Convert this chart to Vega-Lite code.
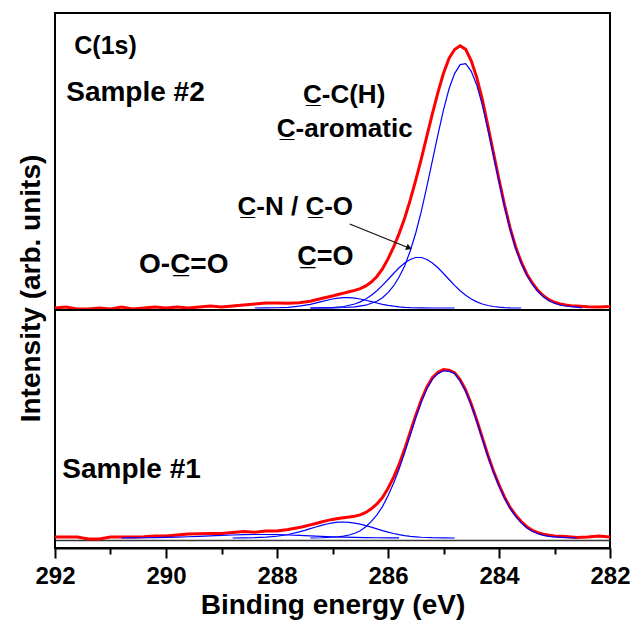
{
  "$schema": "https://vega.github.io/schema/vega-lite/v6.json",
  "padding": {"left": 16, "top": 12, "right": 3, "bottom": 5},
  "background": "white",
  "bounds": "flush",
  "spacing": 0,
  "config": {
    "font": "Liberation Sans",
    "view": {"stroke": "black", "strokeWidth": 2}
  },
  "datasets": {
    "spectra": [
      {"sample":"Sample #2","curve":"Measured","eV":292,"counts":0},
      {"sample":"Sample #2","curve":"Measured","eV":291.8,"counts":1},
      {"sample":"Sample #2","curve":"Measured","eV":291.6,"counts":-1},
      {"sample":"Sample #2","curve":"Measured","eV":291.4,"counts":-1},
      {"sample":"Sample #2","curve":"Measured","eV":291.2,"counts":0},
      {"sample":"Sample #2","curve":"Measured","eV":291,"counts":-1},
      {"sample":"Sample #2","curve":"Measured","eV":290.8,"counts":1},
      {"sample":"Sample #2","curve":"Measured","eV":290.6,"counts":-1},
      {"sample":"Sample #2","curve":"Measured","eV":290.4,"counts":0},
      {"sample":"Sample #2","curve":"Measured","eV":290.2,"counts":1},
      {"sample":"Sample #2","curve":"Measured","eV":290,"counts":0},
      {"sample":"Sample #2","curve":"Measured","eV":289.8,"counts":1},
      {"sample":"Sample #2","curve":"Measured","eV":289.6,"counts":0},
      {"sample":"Sample #2","curve":"Measured","eV":289.4,"counts":1},
      {"sample":"Sample #2","curve":"Measured","eV":289.2,"counts":2},
      {"sample":"Sample #2","curve":"Measured","eV":289,"counts":1},
      {"sample":"Sample #2","curve":"Measured","eV":288.8,"counts":2},
      {"sample":"Sample #2","curve":"Measured","eV":288.6,"counts":3},
      {"sample":"Sample #2","curve":"Measured","eV":288.4,"counts":4},
      {"sample":"Sample #2","curve":"Measured","eV":288.2,"counts":5},
      {"sample":"Sample #2","curve":"Measured","eV":288,"counts":5},
      {"sample":"Sample #2","curve":"Measured","eV":287.8,"counts":4.7},
      {"sample":"Sample #2","curve":"Measured","eV":287.6,"counts":5.3},
      {"sample":"Sample #2","curve":"Measured","eV":287.4,"counts":6.7},
      {"sample":"Sample #2","curve":"Measured","eV":287.2,"counts":9.5},
      {"sample":"Sample #2","curve":"Measured","eV":287,"counts":12},
      {"sample":"Sample #2","curve":"Measured","eV":286.9,"counts":13.5},
      {"sample":"Sample #2","curve":"Measured","eV":286.8,"counts":14.9},
      {"sample":"Sample #2","curve":"Measured","eV":286.7,"counts":16.2},
      {"sample":"Sample #2","curve":"Measured","eV":286.6,"counts":17.6},
      {"sample":"Sample #2","curve":"Measured","eV":286.5,"counts":19.4},
      {"sample":"Sample #2","curve":"Measured","eV":286.4,"counts":22.1},
      {"sample":"Sample #2","curve":"Measured","eV":286.3,"counts":25.9},
      {"sample":"Sample #2","curve":"Measured","eV":286.2,"counts":31.5},
      {"sample":"Sample #2","curve":"Measured","eV":286.1,"counts":39.1},
      {"sample":"Sample #2","curve":"Measured","eV":286,"counts":49.1},
      {"sample":"Sample #2","curve":"Measured","eV":285.9,"counts":60.8},
      {"sample":"Sample #2","curve":"Measured","eV":285.8,"counts":74.4},
      {"sample":"Sample #2","curve":"Measured","eV":285.7,"counts":89.7},
      {"sample":"Sample #2","curve":"Measured","eV":285.6,"counts":107.9},
      {"sample":"Sample #2","curve":"Measured","eV":285.5,"counts":127.8},
      {"sample":"Sample #2","curve":"Measured","eV":285.4,"counts":149.1},
      {"sample":"Sample #2","curve":"Measured","eV":285.3,"counts":171.9},
      {"sample":"Sample #2","curve":"Measured","eV":285.2,"counts":194.4},
      {"sample":"Sample #2","curve":"Measured","eV":285.1,"counts":215.6},
      {"sample":"Sample #2","curve":"Measured","eV":285,"counts":234.7},
      {"sample":"Sample #2","curve":"Measured","eV":284.9,"counts":249.7},
      {"sample":"Sample #2","curve":"Measured","eV":284.8,"counts":258.5},
      {"sample":"Sample #2","curve":"Measured","eV":284.7,"counts":262.2},
      {"sample":"Sample #2","curve":"Measured","eV":284.6,"counts":258.6},
      {"sample":"Sample #2","curve":"Measured","eV":284.5,"counts":247.1},
      {"sample":"Sample #2","curve":"Measured","eV":284.4,"counts":230.4},
      {"sample":"Sample #2","curve":"Measured","eV":284.3,"counts":208.3},
      {"sample":"Sample #2","curve":"Measured","eV":284.2,"counts":182.1},
      {"sample":"Sample #2","curve":"Measured","eV":284.1,"counts":155.1},
      {"sample":"Sample #2","curve":"Measured","eV":284,"counts":128.5},
      {"sample":"Sample #2","curve":"Measured","eV":283.9,"counts":102.9},
      {"sample":"Sample #2","curve":"Measured","eV":283.8,"counts":80.2},
      {"sample":"Sample #2","curve":"Measured","eV":283.7,"counts":61},
      {"sample":"Sample #2","curve":"Measured","eV":283.6,"counts":46},
      {"sample":"Sample #2","curve":"Measured","eV":283.5,"counts":34},
      {"sample":"Sample #2","curve":"Measured","eV":283.4,"counts":25},
      {"sample":"Sample #2","curve":"Measured","eV":283.3,"counts":17.6},
      {"sample":"Sample #2","curve":"Measured","eV":283.2,"counts":12.2},
      {"sample":"Sample #2","curve":"Measured","eV":283.1,"counts":8.3},
      {"sample":"Sample #2","curve":"Measured","eV":283,"counts":5.7},
      {"sample":"Sample #2","curve":"Measured","eV":282.9,"counts":4},
      {"sample":"Sample #2","curve":"Measured","eV":282.8,"counts":3},
      {"sample":"Sample #2","curve":"Measured","eV":282.7,"counts":2.3},
      {"sample":"Sample #2","curve":"Measured","eV":282.6,"counts":2},
      {"sample":"Sample #2","curve":"Measured","eV":282.4,"counts":1.3},
      {"sample":"Sample #2","curve":"Measured","eV":282.2,"counts":1},
      {"sample":"Sample #2","curve":"Measured","eV":282,"counts":1.5},

      {"sample":"Sample #2","curve":"C-C(H)","eV":287.4,"counts":0},
      {"sample":"Sample #2","curve":"C-C(H)","eV":287,"counts":0.2},
      {"sample":"Sample #2","curve":"C-C(H)","eV":286.8,"counts":0.5},
      {"sample":"Sample #2","curve":"C-C(H)","eV":286.6,"counts":1.2},
      {"sample":"Sample #2","curve":"C-C(H)","eV":286.4,"counts":2.8},
      {"sample":"Sample #2","curve":"C-C(H)","eV":286.2,"counts":6.7},
      {"sample":"Sample #2","curve":"C-C(H)","eV":286.1,"counts":10.3},
      {"sample":"Sample #2","curve":"C-C(H)","eV":286,"counts":15.4},
      {"sample":"Sample #2","curve":"C-C(H)","eV":285.9,"counts":22},
      {"sample":"Sample #2","curve":"C-C(H)","eV":285.8,"counts":31},
      {"sample":"Sample #2","curve":"C-C(H)","eV":285.7,"counts":42},
      {"sample":"Sample #2","curve":"C-C(H)","eV":285.6,"counts":57},
      {"sample":"Sample #2","curve":"C-C(H)","eV":285.5,"counts":75},
      {"sample":"Sample #2","curve":"C-C(H)","eV":285.4,"counts":96.6},
      {"sample":"Sample #2","curve":"C-C(H)","eV":285.3,"counts":121.4},
      {"sample":"Sample #2","curve":"C-C(H)","eV":285.2,"counts":147.4},
      {"sample":"Sample #2","curve":"C-C(H)","eV":285.1,"counts":173.4},
      {"sample":"Sample #2","curve":"C-C(H)","eV":285,"counts":198.2},
      {"sample":"Sample #2","curve":"C-C(H)","eV":284.9,"counts":219.2},
      {"sample":"Sample #2","curve":"C-C(H)","eV":284.8,"counts":234.4},
      {"sample":"Sample #2","curve":"C-C(H)","eV":284.7,"counts":243.4},
      {"sample":"Sample #2","curve":"C-C(H)","eV":284.6,"counts":244.4},
      {"sample":"Sample #2","curve":"C-C(H)","eV":284.5,"counts":236.6},
      {"sample":"Sample #2","curve":"C-C(H)","eV":284.4,"counts":222.8},
      {"sample":"Sample #2","curve":"C-C(H)","eV":284.3,"counts":202.8},
      {"sample":"Sample #2","curve":"C-C(H)","eV":284.2,"counts":178.6},
      {"sample":"Sample #2","curve":"C-C(H)","eV":284.1,"counts":152.6},
      {"sample":"Sample #2","curve":"C-C(H)","eV":284,"counts":126.6},
      {"sample":"Sample #2","curve":"C-C(H)","eV":283.9,"counts":101.4},
      {"sample":"Sample #2","curve":"C-C(H)","eV":283.8,"counts":79},
      {"sample":"Sample #2","curve":"C-C(H)","eV":283.7,"counts":59.9},
      {"sample":"Sample #2","curve":"C-C(H)","eV":283.6,"counts":44.8},
      {"sample":"Sample #2","curve":"C-C(H)","eV":283.5,"counts":33},
      {"sample":"Sample #2","curve":"C-C(H)","eV":283.4,"counts":23.8},
      {"sample":"Sample #2","curve":"C-C(H)","eV":283.3,"counts":16.6},
      {"sample":"Sample #2","curve":"C-C(H)","eV":283.2,"counts":11.2},
      {"sample":"Sample #2","curve":"C-C(H)","eV":283.1,"counts":7.3},
      {"sample":"Sample #2","curve":"C-C(H)","eV":283,"counts":4.7},
      {"sample":"Sample #2","curve":"C-C(H)","eV":282.9,"counts":3},
      {"sample":"Sample #2","curve":"C-C(H)","eV":282.8,"counts":2},
      {"sample":"Sample #2","curve":"C-C(H)","eV":282.7,"counts":1.3},
      {"sample":"Sample #2","curve":"C-C(H)","eV":282.6,"counts":0.9},
      {"sample":"Sample #2","curve":"C-C(H)","eV":282.5,"counts":0},

      {"sample":"Sample #2","curve":"C-N/C-O","eV":287.4,"counts":0},
      {"sample":"Sample #2","curve":"C-N/C-O","eV":287.2,"counts":0.15},
      {"sample":"Sample #2","curve":"C-N/C-O","eV":287,"counts":0.45},
      {"sample":"Sample #2","curve":"C-N/C-O","eV":286.8,"counts":1.5},
      {"sample":"Sample #2","curve":"C-N/C-O","eV":286.6,"counts":4},
      {"sample":"Sample #2","curve":"C-N/C-O","eV":286.5,"counts":6.1},
      {"sample":"Sample #2","curve":"C-N/C-O","eV":286.4,"counts":9},
      {"sample":"Sample #2","curve":"C-N/C-O","eV":286.3,"counts":12.7},
      {"sample":"Sample #2","curve":"C-N/C-O","eV":286.2,"counts":17.3},
      {"sample":"Sample #2","curve":"C-N/C-O","eV":286.1,"counts":22.6},
      {"sample":"Sample #2","curve":"C-N/C-O","eV":286,"counts":28.5},
      {"sample":"Sample #2","curve":"C-N/C-O","eV":285.9,"counts":34.5},
      {"sample":"Sample #2","curve":"C-N/C-O","eV":285.8,"counts":40.2},
      {"sample":"Sample #2","curve":"C-N/C-O","eV":285.7,"counts":45},
      {"sample":"Sample #2","curve":"C-N/C-O","eV":285.6,"counts":48.5},
      {"sample":"Sample #2","curve":"C-N/C-O","eV":285.5,"counts":50.5},
      {"sample":"Sample #2","curve":"C-N/C-O","eV":285.4,"counts":50.5},
      {"sample":"Sample #2","curve":"C-N/C-O","eV":285.3,"counts":48.5},
      {"sample":"Sample #2","curve":"C-N/C-O","eV":285.2,"counts":45},
      {"sample":"Sample #2","curve":"C-N/C-O","eV":285.1,"counts":40.2},
      {"sample":"Sample #2","curve":"C-N/C-O","eV":285,"counts":34.5},
      {"sample":"Sample #2","curve":"C-N/C-O","eV":284.9,"counts":28.5},
      {"sample":"Sample #2","curve":"C-N/C-O","eV":284.8,"counts":22.6},
      {"sample":"Sample #2","curve":"C-N/C-O","eV":284.7,"counts":17.3},
      {"sample":"Sample #2","curve":"C-N/C-O","eV":284.6,"counts":12.7},
      {"sample":"Sample #2","curve":"C-N/C-O","eV":284.5,"counts":9},
      {"sample":"Sample #2","curve":"C-N/C-O","eV":284.4,"counts":6.1},
      {"sample":"Sample #2","curve":"C-N/C-O","eV":284.3,"counts":4},
      {"sample":"Sample #2","curve":"C-N/C-O","eV":284.2,"counts":2.5},
      {"sample":"Sample #2","curve":"C-N/C-O","eV":284.1,"counts":1.5},
      {"sample":"Sample #2","curve":"C-N/C-O","eV":284,"counts":0.85},
      {"sample":"Sample #2","curve":"C-N/C-O","eV":283.9,"counts":0.45},
      {"sample":"Sample #2","curve":"C-N/C-O","eV":283.8,"counts":0.2},
      {"sample":"Sample #2","curve":"C-N/C-O","eV":283.6,"counts":0},

      {"sample":"Sample #2","curve":"C=O","eV":288.4,"counts":0},
      {"sample":"Sample #2","curve":"C=O","eV":288.2,"counts":0.1},
      {"sample":"Sample #2","curve":"C=O","eV":288,"counts":0.25},
      {"sample":"Sample #2","curve":"C=O","eV":287.8,"counts":0.7},
      {"sample":"Sample #2","curve":"C=O","eV":287.6,"counts":1.8},
      {"sample":"Sample #2","curve":"C=O","eV":287.4,"counts":3.7},
      {"sample":"Sample #2","curve":"C=O","eV":287.2,"counts":6.4},
      {"sample":"Sample #2","curve":"C=O","eV":287,"counts":9},
      {"sample":"Sample #2","curve":"C=O","eV":286.9,"counts":9.85},
      {"sample":"Sample #2","curve":"C=O","eV":286.8,"counts":10.4},
      {"sample":"Sample #2","curve":"C=O","eV":286.7,"counts":10.4},
      {"sample":"Sample #2","curve":"C=O","eV":286.6,"counts":9.85},
      {"sample":"Sample #2","curve":"C=O","eV":286.5,"counts":9},
      {"sample":"Sample #2","curve":"C=O","eV":286.4,"counts":7.75},
      {"sample":"Sample #2","curve":"C=O","eV":286.3,"counts":6.4},
      {"sample":"Sample #2","curve":"C=O","eV":286.2,"counts":5},
      {"sample":"Sample #2","curve":"C=O","eV":286.1,"counts":3.7},
      {"sample":"Sample #2","curve":"C=O","eV":286,"counts":2.65},
      {"sample":"Sample #2","curve":"C=O","eV":285.9,"counts":1.8},
      {"sample":"Sample #2","curve":"C=O","eV":285.8,"counts":1.15},
      {"sample":"Sample #2","curve":"C=O","eV":285.7,"counts":0.7},
      {"sample":"Sample #2","curve":"C=O","eV":285.6,"counts":0.4},
      {"sample":"Sample #2","curve":"C=O","eV":285.4,"counts":0.15},
      {"sample":"Sample #2","curve":"C=O","eV":285.2,"counts":0},
      {"sample":"Sample #2","curve":"C=O","eV":284.8,"counts":0},

      {"sample":"Sample #1","curve":"Measured","eV":292,"counts":1},
      {"sample":"Sample #1","curve":"Measured","eV":291.8,"counts":1},
      {"sample":"Sample #1","curve":"Measured","eV":291.6,"counts":1},
      {"sample":"Sample #1","curve":"Measured","eV":291.4,"counts":-1},
      {"sample":"Sample #1","curve":"Measured","eV":291.2,"counts":-1},
      {"sample":"Sample #1","curve":"Measured","eV":291,"counts":1},
      {"sample":"Sample #1","curve":"Measured","eV":290.8,"counts":1},
      {"sample":"Sample #1","curve":"Measured","eV":290.6,"counts":1},
      {"sample":"Sample #1","curve":"Measured","eV":290.4,"counts":1.2},
      {"sample":"Sample #1","curve":"Measured","eV":290.2,"counts":2},
      {"sample":"Sample #1","curve":"Measured","eV":290,"counts":2},
      {"sample":"Sample #1","curve":"Measured","eV":289.8,"counts":3},
      {"sample":"Sample #1","curve":"Measured","eV":289.6,"counts":4},
      {"sample":"Sample #1","curve":"Measured","eV":289.4,"counts":4.2},
      {"sample":"Sample #1","curve":"Measured","eV":289.2,"counts":4.6},
      {"sample":"Sample #1","curve":"Measured","eV":289,"counts":4.5},
      {"sample":"Sample #1","curve":"Measured","eV":288.8,"counts":5.5},
      {"sample":"Sample #1","curve":"Measured","eV":288.6,"counts":6.5},
      {"sample":"Sample #1","curve":"Measured","eV":288.4,"counts":5.8},
      {"sample":"Sample #1","curve":"Measured","eV":288.2,"counts":7},
      {"sample":"Sample #1","curve":"Measured","eV":288,"counts":7},
      {"sample":"Sample #1","curve":"Measured","eV":287.8,"counts":8.5},
      {"sample":"Sample #1","curve":"Measured","eV":287.6,"counts":10.4},
      {"sample":"Sample #1","curve":"Measured","eV":287.5,"counts":11.7},
      {"sample":"Sample #1","curve":"Measured","eV":287.4,"counts":13.1},
      {"sample":"Sample #1","curve":"Measured","eV":287.3,"counts":14.5},
      {"sample":"Sample #1","curve":"Measured","eV":287.2,"counts":16},
      {"sample":"Sample #1","curve":"Measured","eV":287.1,"counts":17.4},
      {"sample":"Sample #1","curve":"Measured","eV":287,"counts":18.6},
      {"sample":"Sample #1","curve":"Measured","eV":286.9,"counts":19.5},
      {"sample":"Sample #1","curve":"Measured","eV":286.8,"counts":20.3},
      {"sample":"Sample #1","curve":"Measured","eV":286.7,"counts":20.9},
      {"sample":"Sample #1","curve":"Measured","eV":286.6,"counts":21.7},
      {"sample":"Sample #1","curve":"Measured","eV":286.5,"counts":23.1},
      {"sample":"Sample #1","curve":"Measured","eV":286.4,"counts":25.6},
      {"sample":"Sample #1","curve":"Measured","eV":286.3,"counts":29.2},
      {"sample":"Sample #1","curve":"Measured","eV":286.2,"counts":34},
      {"sample":"Sample #1","curve":"Measured","eV":286.1,"counts":40.4},
      {"sample":"Sample #1","curve":"Measured","eV":286,"counts":49.6},
      {"sample":"Sample #1","curve":"Measured","eV":285.9,"counts":60.7},
      {"sample":"Sample #1","curve":"Measured","eV":285.8,"counts":73.6},
      {"sample":"Sample #1","curve":"Measured","eV":285.7,"counts":88.9},
      {"sample":"Sample #1","curve":"Measured","eV":285.6,"counts":105.7},
      {"sample":"Sample #1","curve":"Measured","eV":285.5,"counts":122.6},
      {"sample":"Sample #1","curve":"Measured","eV":285.4,"counts":138},
      {"sample":"Sample #1","curve":"Measured","eV":285.3,"counts":150.8},
      {"sample":"Sample #1","curve":"Measured","eV":285.2,"counts":160.2},
      {"sample":"Sample #1","curve":"Measured","eV":285.1,"counts":165.7},
      {"sample":"Sample #1","curve":"Measured","eV":285,"counts":168.4},
      {"sample":"Sample #1","curve":"Measured","eV":284.9,"counts":167.8},
      {"sample":"Sample #1","curve":"Measured","eV":284.8,"counts":165.4},
      {"sample":"Sample #1","curve":"Measured","eV":284.7,"counts":158.2},
      {"sample":"Sample #1","curve":"Measured","eV":284.6,"counts":147.8},
      {"sample":"Sample #1","curve":"Measured","eV":284.5,"counts":134},
      {"sample":"Sample #1","curve":"Measured","eV":284.4,"counts":117.8},
      {"sample":"Sample #1","curve":"Measured","eV":284.3,"counts":100.2},
      {"sample":"Sample #1","curve":"Measured","eV":284.2,"counts":82.8},
      {"sample":"Sample #1","curve":"Measured","eV":284.1,"counts":67},
      {"sample":"Sample #1","curve":"Measured","eV":284,"counts":53.2},
      {"sample":"Sample #1","curve":"Measured","eV":283.9,"counts":40.8},
      {"sample":"Sample #1","curve":"Measured","eV":283.8,"counts":30.6},
      {"sample":"Sample #1","curve":"Measured","eV":283.7,"counts":22.8},
      {"sample":"Sample #1","curve":"Measured","eV":283.6,"counts":16.4},
      {"sample":"Sample #1","curve":"Measured","eV":283.5,"counts":11.3},
      {"sample":"Sample #1","curve":"Measured","eV":283.4,"counts":7.7},
      {"sample":"Sample #1","curve":"Measured","eV":283.3,"counts":5.3},
      {"sample":"Sample #1","curve":"Measured","eV":283.2,"counts":3.7},
      {"sample":"Sample #1","curve":"Measured","eV":283.1,"counts":2.7},
      {"sample":"Sample #1","curve":"Measured","eV":283,"counts":2.1},
      {"sample":"Sample #1","curve":"Measured","eV":282.8,"counts":1.4},
      {"sample":"Sample #1","curve":"Measured","eV":282.6,"counts":0.5},
      {"sample":"Sample #1","curve":"Measured","eV":282.4,"counts":1},
      {"sample":"Sample #1","curve":"Measured","eV":282.2,"counts":2},
      {"sample":"Sample #1","curve":"Measured","eV":282,"counts":1},

      {"sample":"Sample #1","curve":"C-C(H)","eV":287.4,"counts":0},
      {"sample":"Sample #1","curve":"C-C(H)","eV":287.2,"counts":0.25},
      {"sample":"Sample #1","curve":"C-C(H)","eV":287,"counts":0.8},
      {"sample":"Sample #1","curve":"C-C(H)","eV":286.9,"counts":1.2},
      {"sample":"Sample #1","curve":"C-C(H)","eV":286.8,"counts":1.9},
      {"sample":"Sample #1","curve":"C-C(H)","eV":286.7,"counts":3},
      {"sample":"Sample #1","curve":"C-C(H)","eV":286.6,"counts":4.7},
      {"sample":"Sample #1","curve":"C-C(H)","eV":286.5,"counts":7.3},
      {"sample":"Sample #1","curve":"C-C(H)","eV":286.4,"counts":11.3},
      {"sample":"Sample #1","curve":"C-C(H)","eV":286.3,"counts":16.6},
      {"sample":"Sample #1","curve":"C-C(H)","eV":286.2,"counts":23.2},
      {"sample":"Sample #1","curve":"C-C(H)","eV":286.1,"counts":31.4},
      {"sample":"Sample #1","curve":"C-C(H)","eV":286,"counts":42.2},
      {"sample":"Sample #1","curve":"C-C(H)","eV":285.9,"counts":54.8},
      {"sample":"Sample #1","curve":"C-C(H)","eV":285.8,"counts":69},
      {"sample":"Sample #1","curve":"C-C(H)","eV":285.7,"counts":85.2},
      {"sample":"Sample #1","curve":"C-C(H)","eV":285.6,"counts":102.8},
      {"sample":"Sample #1","curve":"C-C(H)","eV":285.5,"counts":120.2},
      {"sample":"Sample #1","curve":"C-C(H)","eV":285.4,"counts":136},
      {"sample":"Sample #1","curve":"C-C(H)","eV":285.3,"counts":149.2},
      {"sample":"Sample #1","curve":"C-C(H)","eV":285.2,"counts":158.8},
      {"sample":"Sample #1","curve":"C-C(H)","eV":285.1,"counts":164.4},
      {"sample":"Sample #1","curve":"C-C(H)","eV":285,"counts":167.2},
      {"sample":"Sample #1","curve":"C-C(H)","eV":284.9,"counts":166.8},
      {"sample":"Sample #1","curve":"C-C(H)","eV":284.8,"counts":164.4},
      {"sample":"Sample #1","curve":"C-C(H)","eV":284.7,"counts":157.2},
      {"sample":"Sample #1","curve":"C-C(H)","eV":284.6,"counts":146.8},
      {"sample":"Sample #1","curve":"C-C(H)","eV":284.5,"counts":133},
      {"sample":"Sample #1","curve":"C-C(H)","eV":284.4,"counts":116.8},
      {"sample":"Sample #1","curve":"C-C(H)","eV":284.3,"counts":99.2},
      {"sample":"Sample #1","curve":"C-C(H)","eV":284.2,"counts":81.8},
      {"sample":"Sample #1","curve":"C-C(H)","eV":284.1,"counts":66},
      {"sample":"Sample #1","curve":"C-C(H)","eV":284,"counts":52.2},
      {"sample":"Sample #1","curve":"C-C(H)","eV":283.9,"counts":39.8},
      {"sample":"Sample #1","curve":"C-C(H)","eV":283.8,"counts":29.6},
      {"sample":"Sample #1","curve":"C-C(H)","eV":283.7,"counts":21.8},
      {"sample":"Sample #1","curve":"C-C(H)","eV":283.6,"counts":15.4},
      {"sample":"Sample #1","curve":"C-C(H)","eV":283.5,"counts":10.3},
      {"sample":"Sample #1","curve":"C-C(H)","eV":283.4,"counts":6.7},
      {"sample":"Sample #1","curve":"C-C(H)","eV":283.3,"counts":4.3},
      {"sample":"Sample #1","curve":"C-C(H)","eV":283.2,"counts":2.7},
      {"sample":"Sample #1","curve":"C-C(H)","eV":283.1,"counts":1.7},
      {"sample":"Sample #1","curve":"C-C(H)","eV":283,"counts":1.1},
      {"sample":"Sample #1","curve":"C-C(H)","eV":282.8,"counts":0.4},
      {"sample":"Sample #1","curve":"C-C(H)","eV":282.6,"counts":0},

      {"sample":"Sample #1","curve":"C-N/C-O","eV":288.8,"counts":0},
      {"sample":"Sample #1","curve":"C-N/C-O","eV":288.6,"counts":0.1},
      {"sample":"Sample #1","curve":"C-N/C-O","eV":288.4,"counts":0.3},
      {"sample":"Sample #1","curve":"C-N/C-O","eV":288.2,"counts":0.8},
      {"sample":"Sample #1","curve":"C-N/C-O","eV":288,"counts":1.75},
      {"sample":"Sample #1","curve":"C-N/C-O","eV":287.8,"counts":3.5},
      {"sample":"Sample #1","curve":"C-N/C-O","eV":287.6,"counts":6.1},
      {"sample":"Sample #1","curve":"C-N/C-O","eV":287.5,"counts":7.6},
      {"sample":"Sample #1","curve":"C-N/C-O","eV":287.4,"counts":9.35},
      {"sample":"Sample #1","curve":"C-N/C-O","eV":287.3,"counts":11},
      {"sample":"Sample #1","curve":"C-N/C-O","eV":287.2,"counts":12.6},
      {"sample":"Sample #1","curve":"C-N/C-O","eV":287.1,"counts":14},
      {"sample":"Sample #1","curve":"C-N/C-O","eV":287,"counts":15.1},
      {"sample":"Sample #1","curve":"C-N/C-O","eV":286.9,"counts":15.8},
      {"sample":"Sample #1","curve":"C-N/C-O","eV":286.8,"counts":16},
      {"sample":"Sample #1","curve":"C-N/C-O","eV":286.7,"counts":15.7},
      {"sample":"Sample #1","curve":"C-N/C-O","eV":286.6,"counts":14.9},
      {"sample":"Sample #1","curve":"C-N/C-O","eV":286.5,"counts":13.8},
      {"sample":"Sample #1","curve":"C-N/C-O","eV":286.4,"counts":12.4},
      {"sample":"Sample #1","curve":"C-N/C-O","eV":286.3,"counts":10.8},
      {"sample":"Sample #1","curve":"C-N/C-O","eV":286.2,"counts":9.1},
      {"sample":"Sample #1","curve":"C-N/C-O","eV":286.1,"counts":7.4},
      {"sample":"Sample #1","curve":"C-N/C-O","eV":286,"counts":5.85},
      {"sample":"Sample #1","curve":"C-N/C-O","eV":285.9,"counts":4.5},
      {"sample":"Sample #1","curve":"C-N/C-O","eV":285.8,"counts":3.3},
      {"sample":"Sample #1","curve":"C-N/C-O","eV":285.7,"counts":2.4},
      {"sample":"Sample #1","curve":"C-N/C-O","eV":285.6,"counts":1.65},
      {"sample":"Sample #1","curve":"C-N/C-O","eV":285.5,"counts":1.15},
      {"sample":"Sample #1","curve":"C-N/C-O","eV":285.4,"counts":0.75},
      {"sample":"Sample #1","curve":"C-N/C-O","eV":285.2,"counts":0.3},
      {"sample":"Sample #1","curve":"C-N/C-O","eV":285,"counts":0.1},
      {"sample":"Sample #1","curve":"C-N/C-O","eV":284.8,"counts":0},

      {"sample":"Sample #1","curve":"C=O","eV":290.8,"counts":0.05},
      {"sample":"Sample #1","curve":"C=O","eV":290.6,"counts":0.14},
      {"sample":"Sample #1","curve":"C=O","eV":290.4,"counts":0.23},
      {"sample":"Sample #1","curve":"C=O","eV":290.2,"counts":0.37},
      {"sample":"Sample #1","curve":"C=O","eV":290,"counts":0.6},
      {"sample":"Sample #1","curve":"C=O","eV":289.8,"counts":0.88},
      {"sample":"Sample #1","curve":"C=O","eV":289.6,"counts":1.24},
      {"sample":"Sample #1","curve":"C=O","eV":289.4,"counts":1.66},
      {"sample":"Sample #1","curve":"C=O","eV":289.2,"counts":2.1},
      {"sample":"Sample #1","curve":"C=O","eV":289,"counts":2.6},
      {"sample":"Sample #1","curve":"C=O","eV":288.8,"counts":3},
      {"sample":"Sample #1","curve":"C=O","eV":288.6,"counts":3.3},
      {"sample":"Sample #1","curve":"C=O","eV":288.4,"counts":3.48},
      {"sample":"Sample #1","curve":"C=O","eV":288.2,"counts":3.48},
      {"sample":"Sample #1","curve":"C=O","eV":288,"counts":3.3},
      {"sample":"Sample #1","curve":"C=O","eV":287.8,"counts":3},
      {"sample":"Sample #1","curve":"C=O","eV":287.6,"counts":2.6},
      {"sample":"Sample #1","curve":"C=O","eV":287.4,"counts":2.1},
      {"sample":"Sample #1","curve":"C=O","eV":287.2,"counts":1.66},
      {"sample":"Sample #1","curve":"C=O","eV":287,"counts":1.24},
      {"sample":"Sample #1","curve":"C=O","eV":286.8,"counts":0.88},
      {"sample":"Sample #1","curve":"C=O","eV":286.6,"counts":0.6},
      {"sample":"Sample #1","curve":"C=O","eV":286.4,"counts":0.37},
      {"sample":"Sample #1","curve":"C=O","eV":286.2,"counts":0.23},
      {"sample":"Sample #1","curve":"C=O","eV":286,"counts":0.14},
      {"sample":"Sample #1","curve":"C=O","eV":285.8,"counts":0.05}
    ],
    "labels": [
      {"sample":"Sample #2","label":"C(1s)","eV":291.09,"counts":262,"size":25},
      {"sample":"Sample #2","label":"Sample #2","eV":290.55,"counts":215,"size":28},
      {"sample":"Sample #2","label":"C\u0332-C(H)","eV":286.79,"counts":213,"size":26},
      {"sample":"Sample #2","label":"C\u0332-aromatic","eV":286.78,"counts":179,"size":26},
      {"sample":"Sample #2","label":"C\u0332-N / C\u0332-O","eV":287.67,"counts":101,"size":26},
      {"sample":"Sample #2","label":"C\u0332=O","eV":287.13,"counts":51,"size":27},
      {"sample":"Sample #2","label":"O-C\u0332=O","eV":289.68,"counts":43,"size":28},
      {"sample":"Sample #1","label":"Sample #1","eV":290.62,"counts":68,"size":28}
    ],
    "arrow": [
      {"part":"tail","eV":286.69,"counts":84},
      {"part":"head","eV":285.62,"counts":60}
    ]
  },
  "vconcat": [
    {
      "width": 555,
      "height": 297,
      "layer": [
        {
          "data": {"name": "spectra"},
          "transform": [{"filter": "datum.sample === 'Sample #2' && datum.curve === 'Measured'"}],
          "mark": {"type": "line", "color": "#FF0000", "strokeWidth": 3, "clip": true},
          "encoding": {
            "x": {"field": "eV", "type": "quantitative", "scale": {"domain": [282, 292], "reverse": true, "nice": false, "zero": false}, "axis": null},
            "y": {"field": "counts", "type": "quantitative", "scale": {"domain": [-2, 295], "nice": false, "zero": false},
                  "axis": {"title": "Intensity (arb. units)", "ticks": false, "labels": false, "domain": false, "grid": false,
                           "titleFontSize": 28, "titleFontWeight": "bold", "titleColor": "black", "titleY": 275, "titlePadding": 10}}
          }
        },
        {
          "data": {"name": "spectra"},
          "transform": [{"filter": "datum.sample === 'Sample #2' && datum.curve !== 'Measured'"}],
          "mark": {"type": "line", "color": "#0000FF", "strokeWidth": 1.2, "clip": true},
          "encoding": {
            "x": {"field": "eV", "type": "quantitative"},
            "y": {"field": "counts", "type": "quantitative"},
            "detail": {"field": "curve"}
          }
        },
        {
          "data": {"name": "arrow"},
          "mark": {"type": "line", "color": "#111111", "strokeWidth": 1.3},
          "encoding": {
            "x": {"field": "eV", "type": "quantitative"},
            "y": {"field": "counts", "type": "quantitative"}
          }
        },
        {
          "data": {"name": "arrow"},
          "transform": [{"filter": "datum.part === 'head'"}],
          "mark": {"type": "point", "shape": "triangle-right", "filled": true, "color": "#111111", "size": 45, "angle": 22, "opacity": 1},
          "encoding": {
            "x": {"field": "eV", "type": "quantitative"},
            "y": {"field": "counts", "type": "quantitative"}
          }
        },
        {
          "data": {"name": "labels"},
          "transform": [{"filter": "datum.sample === 'Sample #2'"}],
          "mark": {"type": "text", "fontWeight": "bold", "color": "black", "align": "center", "baseline": "middle"},
          "encoding": {
            "x": {"field": "eV", "type": "quantitative"},
            "y": {"field": "counts", "type": "quantitative"},
            "text": {"field": "label"},
            "size": {"field": "size", "type": "quantitative", "scale": null}
          }
        }
      ]
    },
    {
      "width": 555,
      "height": 238,
      "layer": [
        {
          "data": {"name": "spectra"},
          "transform": [{"filter": "datum.sample === 'Sample #1' && datum.curve === 'Measured'"}],
          "mark": {"type": "line", "color": "#FF0000", "strokeWidth": 3, "clip": true},
          "encoding": {
            "x": {"field": "eV", "type": "quantitative", "scale": {"domain": [282, 292], "reverse": true, "nice": false, "zero": false},
                  "axis": {"title": "Binding energy (eV)",
                           "values": [282, 282.5, 283, 283.5, 284, 284.5, 285, 285.5, 286, 286.5, 287, 287.5, 288, 288.5, 289, 289.5, 290, 290.5, 291, 291.5, 292],
                           "labelExpr": "datum.value % 2 === 0 ? format(datum.value, 'd') : ''",
                           "labelOverlap": false, "labelFontSize": 24, "labelFontWeight": "bold", "labelColor": "black", "labelPadding": 6,
                           "labelFlush": false,
                           "tickSize": {"condition": {"test": "datum.value % 2 === 0", "value": 10}, "value": 6},
                           "tickColor": "black", "tickWidth": 2, "domainColor": "black", "domainWidth": 2, "grid": false,
                           "titleFontSize": 28, "titleFontWeight": "bold", "titleColor": "black", "titlePadding": 3}},
            "y": {"field": "counts", "type": "quantitative", "scale": {"domain": [-10, 228], "nice": false, "zero": false},
                  "axis": {"title": null, "values": [-2], "grid": true, "gridColor": "#333333", "gridWidth": 1.5, "ticks": false, "labels": false, "domain": false}}
          }
        },
        {
          "data": {"name": "spectra"},
          "transform": [{"filter": "datum.sample === 'Sample #1' && datum.curve !== 'Measured'"}],
          "mark": {"type": "line", "color": "#0000FF", "strokeWidth": 1.2, "clip": true},
          "encoding": {
            "x": {"field": "eV", "type": "quantitative"},
            "y": {"field": "counts", "type": "quantitative"},
            "detail": {"field": "curve"}
          }
        },
        {
          "data": {"name": "labels"},
          "transform": [{"filter": "datum.sample === 'Sample #1'"}],
          "mark": {"type": "text", "fontWeight": "bold", "color": "black", "align": "center", "baseline": "middle"},
          "encoding": {
            "x": {"field": "eV", "type": "quantitative"},
            "y": {"field": "counts", "type": "quantitative"},
            "text": {"field": "label"},
            "size": {"field": "size", "type": "quantitative", "scale": null}
          }
        }
      ]
    }
  ]
}
